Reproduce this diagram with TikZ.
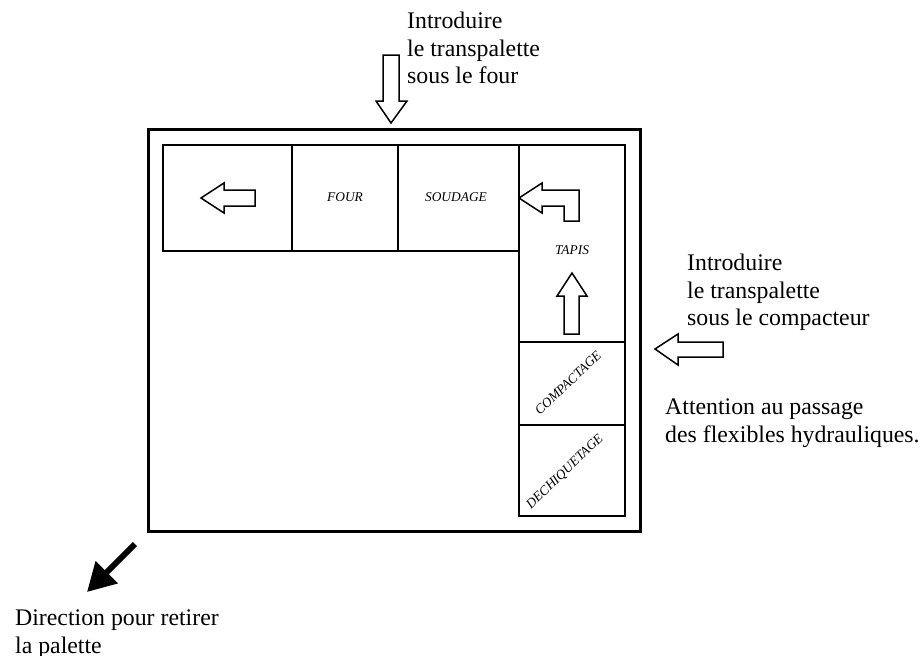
\documentclass[tikz,border=0pt]{standalone}
\usepackage{fontspec}
\setmainfont{Liberation Serif}
\usetikzlibrary{arrows.meta}
\tikzstyle{frame} = [draw, line width=3pt, line join=miter]
\tikzstyle{cell} = [draw, line width=2.4pt]
\tikzstyle{block arrow} = [draw, line width=1.5pt, fill=white, line join=miter]
\tikzstyle{cell label} = [font=\fontsize{13.4}{15}\selectfont\itshape, inner sep=0pt]
\tikzstyle{note} = [font=\fontsize{23.8}{27.5}\selectfont, align=left, anchor=north west, inner sep=0pt]
\tikzstyle{heavy arrow} = [draw, line width=6pt, -{Triangle[length=28pt,width=30pt]}]

\begin{document}
\begin{tikzpicture}[x=1pt,y=-1pt]
    \useasboundingbox (0,0) rectangle (922,656);
    % First we draw the machine frame and the cells
    \path[frame] (148,129) rectangle (640,531);
    \foreach \corner/\opposite in {{(163,145)/(292,251)}, {(292,145)/(398,251)}, {(398,145)/(519,251)}, {(519,145)/(625,342)}, {(519,342)/(625,425)}, {(519,425)/(625,516)}}
        \path[cell] \corner rectangle \opposite;

    % Labels of the cells
    \foreach \pos/\name/\rot/\txt in {{(345,197)/four/0/FOUR}, {(456,197)/soudage/0/SOUDAGE}, {(572,250)/tapis/0/TAPIS}, {(568,383)/compactage/43.5/COMPACTAGE}, {(565,472)/dechiquetage/44/DECHIQUETAGE}}
        \node[cell label, rotate=\rot] (\name) at \pos {\txt};

    % Block arrows
    \path[block arrow] (383,55) -- (399,55) -- (399,101) -- (407,101) -- (391,123) -- (376,101) -- (383,101) -- cycle;
    \path[block arrow] (201,198) -- (224,183) -- (224,190) -- (255,190) -- (255,206) -- (224,206) -- (224,213) -- cycle;
    \path[block arrow] (519,198) -- (542,183) -- (542,190) -- (579,190) -- (579,221) -- (564,221) -- (564,206) -- (542,206) -- (542,213) -- cycle;
    \path[block arrow] (572,273) -- (587,296) -- (579,296) -- (579,334) -- (564,334) -- (564,296) -- (557,296) -- cycle;
    \path[block arrow] (655,349) -- (678,334) -- (678,342) -- (723,342) -- (723,357) -- (678,357) -- (678,365) -- cycle;

    % Notes around the machine
    \node[note] (four note) at (407,12) {Introduire\\le transpalette\\sous le four};
    \node[note] (compacteur note) at (687,254) {Introduire\\le transpalette\\sous le compacteur};
    \node[note] (flexibles note) at (665,399) {Attention au passage\\des flexibles hydrauliques.};
    \node[note] (palette note) at (15,610) {Direction pour retirer\\la palette};

    % Direction of the pallet
    \coordinate (palette start) at (135,544);
    \coordinate (palette end) at (87,592);
    \path[heavy arrow] (palette start) -- (palette end);
\end{tikzpicture}
\end{document}
